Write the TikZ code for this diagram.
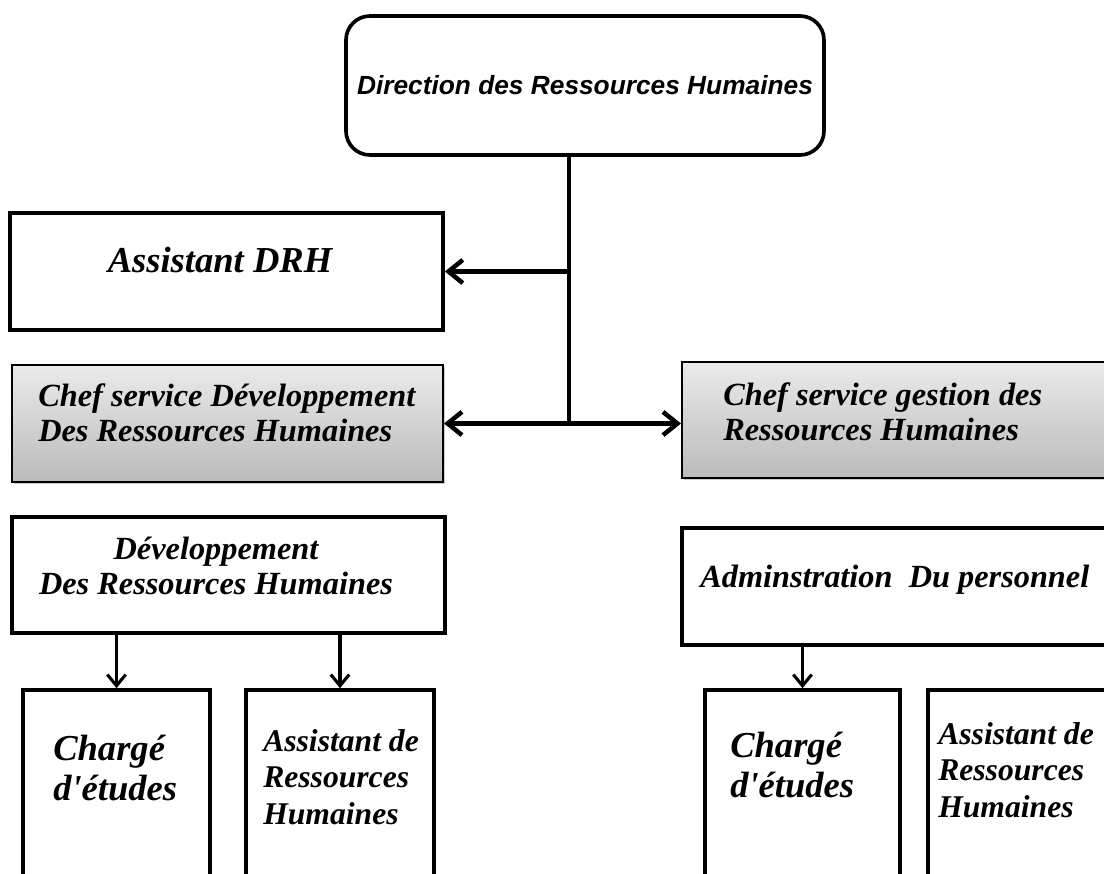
\documentclass[tikz,border=0pt]{standalone}
\usepackage{fontspec}
\setmainfont{Liberation Serif}
\newfontfamily\arialfont{Liberation Sans}
\usepackage{tikz}
\usetikzlibrary{arrows.meta, positioning, calc, shadows}

\begin{document}
\begin{tikzpicture}[
    >={Straight Barb[length=3.6mm, width=5.8mm]},
    box/.style={rectangle, draw, line width=2.6pt, inner sep=0pt},
    chef/.style={rectangle, draw, line width=1.4pt, inner sep=0pt,
                 top color=black!8, bottom color=black!27,
                 drop shadow={shadow xshift=0.6mm, shadow yshift=-0.6mm,
                              opacity=0.4}},
    lbl/.style={inner sep=0pt, align=left,
                font=\fontsize{23}{25}\selectfont\bfseries\itshape},
    big/.style={inner sep=0pt, align=left,
                font=\fontsize{26}{28.5}\selectfont\bfseries\itshape},
    small/.style={inner sep=0pt, align=left,
                  font=\fontsize{22.5}{26}\selectfont\bfseries\itshape},
    trunk/.style={line width=2.4pt},
    arr/.style={line width=3.2pt, ->},
    down/.style={line width=2.2pt,
                 -{Straight Barb[length=2.8mm, width=4.6mm]}},
]
\clip (0,0) rectangle (27.6,-21.825);

% ═══════════════════════════════════════════════════════════════════════
%  TOP: direction
% ═══════════════════════════════════════════════════════════════════════
\node[draw, rounded corners=6mm, line width=2.6pt, inner sep=0pt,
      minimum width=11.95cm, minimum height=3.475cm,
      font=\arialfont\fontsize{18.7}{22}\selectfont\bfseries\itshape]
    (drh) at (14.625,-2.1375) {Direction des Ressources Humaines};

% Assistant
\node[box, minimum width=10.825cm, minimum height=2.925cm] (asst)
    at (5.6625,-6.7875) {};
\node[big] (asstT) at (5.5,-6.5) {Assistant DRH};

% Chefs de service
\node[chef, minimum width=10.775cm, minimum height=2.925cm] (cdev)
    at (5.6875,-10.5875) {};
\node[lbl, anchor=west] (cdevT) at (0.95,-10.325)
    {Chef service Développement\\Des Ressources Humaines};

\node[chef, minimum width=10.7cm, minimum height=2.9cm] (cges)
    at (22.4,-10.5) {};
\node[lbl, anchor=west] (cgesT) at (18.075,-10.3)
    {Chef service gestion des\\Ressources Humaines};

% ═══════════════════════════════════════════════════════════════════════
%  BOTTOM: units and posts
% ═══════════════════════════════════════════════════════════════════════
\node[box, minimum width=10.825cm, minimum height=2.9cm] (dev)
    at (5.7125,-14.375) {};
\node[lbl, align=center] (devT) at (5.4,-14.15)
    {Développement\\Des Ressources Humaines};

\node[box, minimum width=10.7cm, minimum height=2.925cm] (adm)
    at (22.4,-14.6625) {};
\node[lbl, anchor=west] (admT) at (17.5,-14.5)
    {Adminstration\hspace{0.25em} Du personnel};

% Posts (cut by the page bottom)
\node[box, minimum width=4.675cm, minimum height=5.25cm] (chL)
    at (2.9125,-19.875) {};
\node[big, anchor=west] (chLT) at (1.325,-19.2)
    {Chargé\\d\textquotesingle études};

\node[box, minimum width=4.7cm, minimum height=5.25cm] (asL)
    at (8.5,-19.875) {};
\node[small, anchor=west] (asLT) at (6.575,-19.425)
    {Assistant de\\Ressources\\Humaines};

\node[box, minimum width=4.875cm, minimum height=5.25cm] (chR)
    at (20.0625,-19.875) {};
\node[big, anchor=west] (chRT) at (18.25,-19.125)
    {Chargé\\d\textquotesingle études};

\node[box, minimum width=4.55cm, minimum height=5.25cm] (asR)
    at (25.475,-19.875) {};
\node[small, anchor=west] (asRT) at (23.45,-19.25)
    {Assistant de\\Ressources\\Humaines};

% Links
\coordinate (split) at ([xshift=-4mm]drh.south);
\draw[trunk] (split) -- (split |- cdev.east);
\draw[arr] (split |- asst.east) -- (asst.east);
\draw[arr, <->] (cdev.east) -- (cdev.east -| cges.west);

\draw[down] (dev.south -| chL.north) -- (chL.north);
\draw[down] (dev.south -| asL.north) -- (asL.north);
\draw[down] (adm.south -| chR.north) -- (chR.north);

\end{tikzpicture}
\end{document}
